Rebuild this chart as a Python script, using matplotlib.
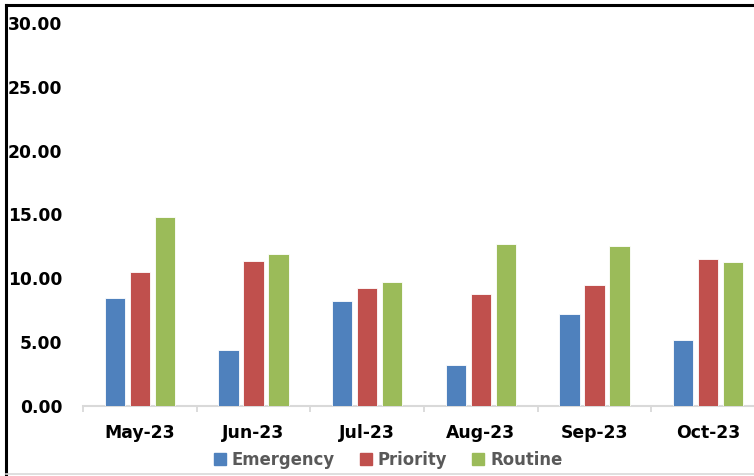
import matplotlib
matplotlib.use("Agg")
import matplotlib.pyplot as plt
import matplotlib.patches as mpatches
from matplotlib.lines import Line2D
from matplotlib.ticker import FixedLocator, FuncFormatter
import numpy as np

# data
months = ["May-23", "Jun-23", "Jul-23", "Aug-23", "Sep-23", "Oct-23"]
emergency = [8.48, 4.37, 8.25, 3.20, 7.20, 5.18]
priority = [10.50, 11.34, 9.22, 8.77, 9.50, 11.49]
routine = [14.80, 11.89, 9.74, 12.70, 12.51, 11.29]

series = [("Emergency", emergency, "#4F81BD"),
          ("Priority", priority, "#C0504D"),
          ("Routine", routine, "#9BBB59")]

W, H = 754, 476
fig = plt.figure(figsize=(W / 100, H / 100), dpi=100)
fig.patch.set_facecolor("white")

# axes spans a bit past the right edge, like the cropped original
ax = fig.add_axes([83 / W, 1 - 406 / H, (765 - 83) / W, (406 - 23) / H])

x = np.arange(len(months))
step = 0.22
width = 0.18
for i, (name, vals, col) in enumerate(series):
    ax.bar(x + (i - 1) * step, vals, width=width, color=col,
           edgecolor="white", linewidth=0.6, label=name, zorder=3)

ax.set_xlim(-0.5, len(months) - 0.5)
ax.set_ylim(0, 30)
ax.set_yticks(np.arange(0, 31, 5))
ax.yaxis.set_major_formatter(FuncFormatter(lambda v, p: f"{v:.2f}"))
ax.set_xticks(x)
ax.set_xticklabels(months)
ax.xaxis.set_minor_locator(FixedLocator(np.arange(-0.5, len(months), 1)))

for s in ["top", "right", "left"]:
    ax.spines[s].set_visible(False)
ax.spines["bottom"].set_color("#d9d9d9")
ax.spines["bottom"].set_linewidth(1.5)

ax.tick_params(axis="y", length=0, pad=15, labelsize=12.3)
ax.tick_params(axis="x", which="major", length=0, pad=13, labelsize=12.4)
ax.tick_params(axis="x", which="minor", length=4.5, width=1.3,
               color="#d9d9d9")
for lab in ax.get_yticklabels() + ax.get_xticklabels():
    lab.set_fontweight("bold")
    lab.set_color("black")

handles = [mpatches.Patch(color=c, label=n) for n, _, c in series]
leg = fig.legend(handles=handles, loc="center", ncol=3,
                 bbox_to_anchor=(388 / W, 1 - 460 / H), frameon=False,
                 prop={"size": 11.9, "weight": "bold"},
                 handlelength=0.75, handleheight=0.75,
                 handletextpad=0.35, columnspacing=1.5)
for t in leg.get_texts():
    t.set_color("#595959")

# outer frame of the pasted chart
fig.add_artist(Line2D([6 / W, 1], [1 - 5 / H, 1 - 5 / H],
                      transform=fig.transFigure, color="black", lw=2.2))
fig.add_artist(Line2D([6 / W, 6 / W], [0, 1 - 5 / H],
                      transform=fig.transFigure, color="black", lw=2.2))
fig.add_artist(Line2D([6 / W, 1], [1 - 474 / H, 1 - 474 / H],
                      transform=fig.transFigure, color="#d9d9d9", lw=1.2))

fig.savefig("out.png", dpi=100, facecolor="white")
